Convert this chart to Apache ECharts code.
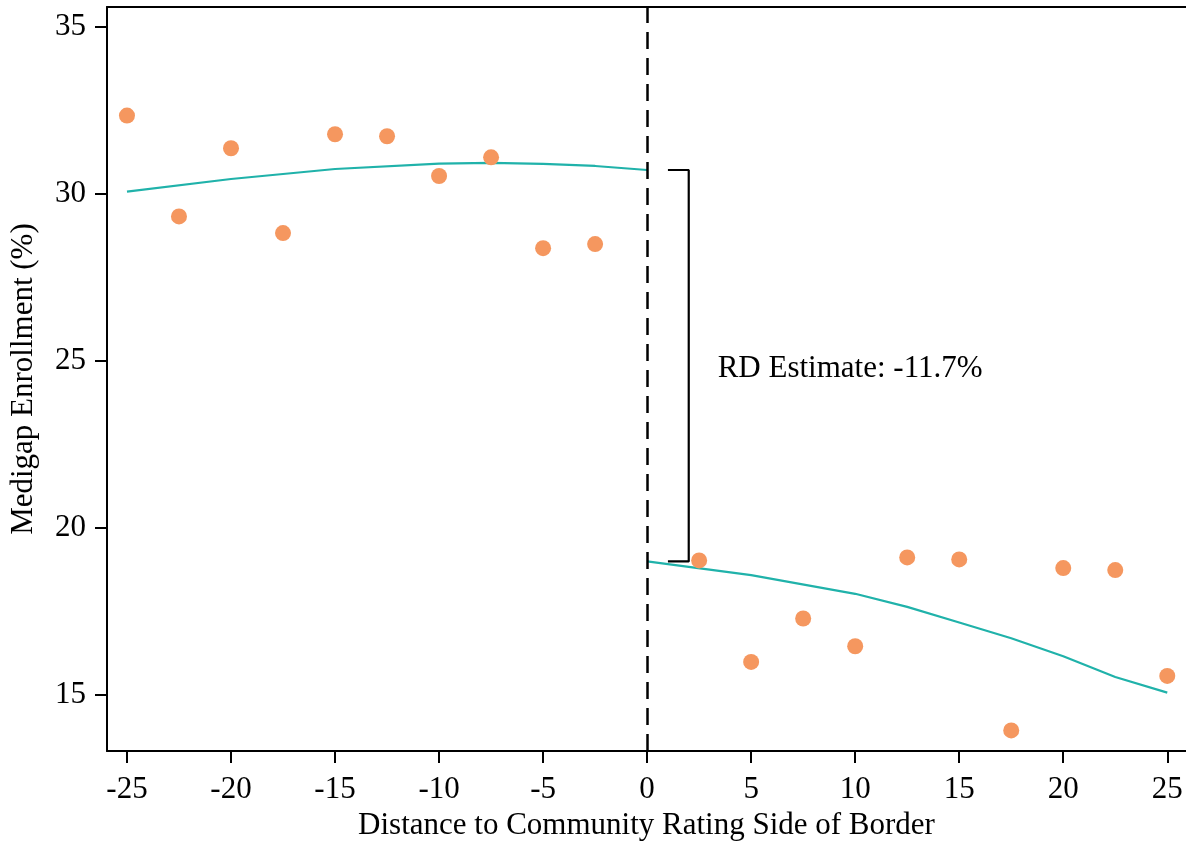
<!DOCTYPE html>
<html>
<head>
<meta charset="utf-8">
<script src="https://cdn.jsdelivr.net/npm/echarts@6/dist/echarts.min.js"></script>
<style>html,body{margin:0;padding:0;background:#fff}#c{width:1186px;height:846px}</style>
</head>
<body>
<div id="c"></div>
<script>
// Binned scatter points
const leftX = [-25, -22.5, -20, -17.5, -15, -12.5, -10, -7.5, -5, -2.5];
const leftY = [32.34, 29.32, 31.36, 28.82, 31.78, 31.72, 30.53, 31.09, 28.37, 28.49];
const rightX = [2.5, 5, 7.5, 10, 12.5, 15, 17.5, 20, 22.5, 25];
const rightY = [19.02, 15.98, 17.28, 16.45, 19.11, 19.05, 13.93, 18.79, 18.73, 15.56];
// Fitted lines
const fitLeftX = [-25, -20, -15, -10, -7.5, -5, -2.5, 0];
const fitLeftY = [30.06, 30.44, 30.74, 30.90, 30.92, 30.89, 30.83, 30.71];
const fitRightX = [0, 5, 10, 12.5, 15, 17.5, 20, 22.5, 25];
const fitRightY = [18.99, 18.58, 18.02, 17.63, 17.16, 16.69, 16.15, 15.53, 15.06];
// Bracket / annotation
const bracketTop = 30.71;
const bracketBottom = 18.99;
const bracketX = [1, 2];
const annotText = 'RD Estimate: -11.7%';
const annotPos = [3.39, 24.75];
// Ticks
const xTicks = [-25, -20, -15, -10, -5, 0, 5, 10, 15, 20, 25];
const yTicks = [15, 20, 25, 30, 35];

const font = 'Liberation Serif';
const zip = (a, b) => a.map((v, i) => [v, b[i]]);

const chart = echarts.init(document.getElementById('c'), null, {renderer: 'canvas'});
chart.setOption({
  animation: false,
  backgroundColor: '#ffffff',
  grid: {left: 105, right: 0, top: 7, bottom: 86, containLabel: false},
  xAxis: [{
    type: 'value', min: -25.96, max: 25.9,
    name: 'Distance to Community Rating Side of Border',
    nameLocation: 'middle', nameGap: 55,
    nameTextStyle: {fontFamily: font, fontSize: 31, color: '#000'},
    axisLine: {show: true, onZero: false, lineStyle: {color: '#000', width: 2}},
    axisTick: {show: true, length: 12, customValues: xTicks, lineStyle: {color: '#000', width: 2}},
    axisLabel: {customValues: xTicks, fontFamily: font, fontSize: 31, color: '#000', margin: 23},
    splitLine: {show: false}
  }, {
    type: 'value', position: 'top', min: -25.96, max: 25.9,
    axisLine: {show: true, onZero: false, lineStyle: {color: '#000', width: 2}},
    axisTick: {show: false}, axisLabel: {show: false}, splitLine: {show: false}
  }],
  yAxis: {
    type: 'value', min: 13.31, max: 35.59,
    name: 'Medigap Enrollment (%)',
    nameLocation: 'middle', nameGap: 68,
    nameTextStyle: {fontFamily: font, fontSize: 31, color: '#000'},
    axisLine: {show: true, onZero: false, lineStyle: {color: '#000', width: 2}},
    axisTick: {show: true, length: 12, customValues: yTicks, lineStyle: {color: '#000', width: 2}},
    axisLabel: {customValues: yTicks, fontFamily: font, fontSize: 31, color: '#000', margin: 21},
    splitLine: {show: false}
  },
  series: [
    {
      type: 'line', data: zip(fitLeftX, fitLeftY), showSymbol: false, symbol: 'none',
      lineStyle: {color: '#20B2AA', width: 2.2}, z: 3,
      markLine: {
        silent: true, symbol: 'none', label: {show: false},
        lineStyle: {color: '#000', width: 2.5, type: [17, 9]},
        data: [{xAxis: 0}]
      }
    },
    {
      type: 'line', data: zip(fitRightX, fitRightY), showSymbol: false, symbol: 'none',
      lineStyle: {color: '#20B2AA', width: 2.2}, z: 3
    },
    {
      type: 'scatter', data: zip(leftX, leftY).concat(zip(rightX, rightY)),
      symbolSize: 16, itemStyle: {color: '#F5975F', opacity: 1}, z: 4
    },
    {
      type: 'line', symbol: 'none', showSymbol: false,
      data: [[bracketX[0], bracketTop], [bracketX[1], bracketTop], [bracketX[1], bracketBottom], [bracketX[0], bracketBottom]],
      lineStyle: {color: '#000', width: 2.2}, z: 2
    }
  ]
});
const p = chart.convertToPixel({xAxisIndex: 0, yAxisIndex: 0}, annotPos);
chart.setOption({
  graphic: [{
    type: 'text', x: p[0], y: p[1], z: 10,
    style: {text: annotText, fontFamily: font, fontSize: 31, fill: '#000',
      textAlign: 'left', textVerticalAlign: 'middle'}
  }]
});
</script>
</body>
</html>
